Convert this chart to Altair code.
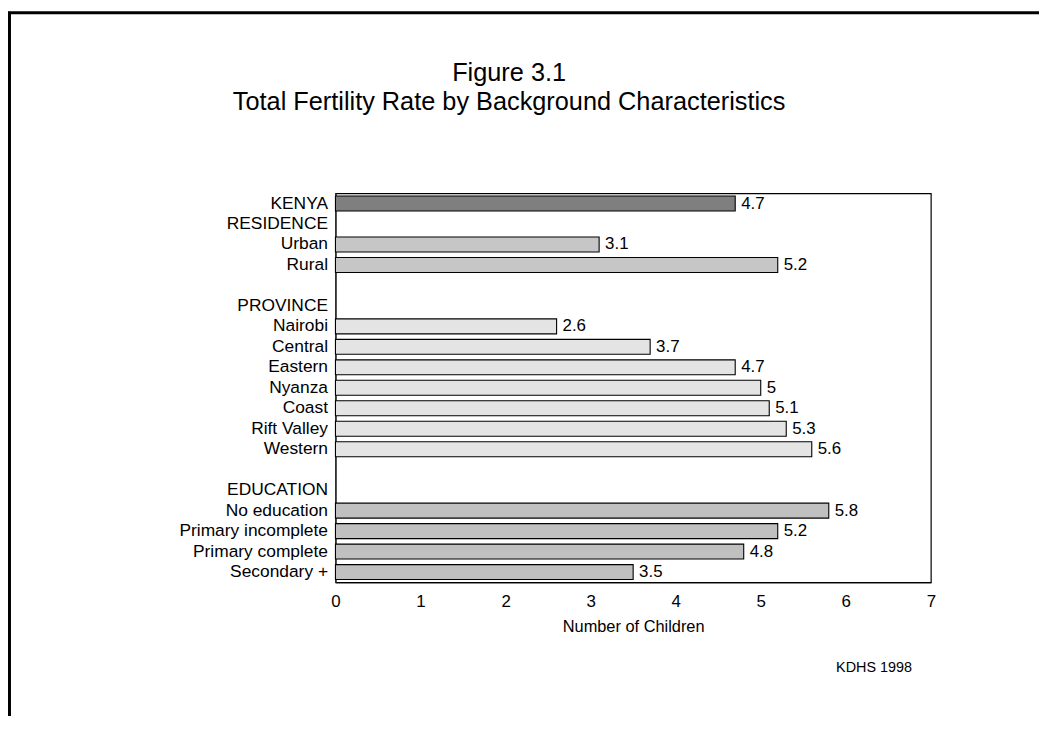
import altair as alt
import pandas as pd

# ---- data ----
rows = ["KENYA", "RESIDENCE", "Urban", "Rural", " ", "PROVINCE", "Nairobi", "Central",
        "Eastern", "Nyanza", "Coast", "Rift Valley", "Western", "  ", "EDUCATION",
        "No education", "Primary incomplete", "Primary complete", "Secondary +"]
bar_rows = ["KENYA", "Urban", "Rural", "Nairobi", "Central", "Eastern", "Nyanza", "Coast",
            "Rift Valley", "Western", "No education", "Primary incomplete",
            "Primary complete", "Secondary +"]
tfr = [4.7, 3.1, 5.2, 2.6, 3.7, 4.7, 5.0, 5.1, 5.3, 5.6, 5.8, 5.2, 4.8, 3.5]
groups = ["Total", "Residence", "Residence", "Province", "Province", "Province", "Province",
          "Province", "Province", "Province", "Education", "Education", "Education", "Education"]
group_names = ["Total", "Residence", "Province", "Education"]
x_ticks = [0, 1, 2, 3, 4, 5, 6, 7]
title_lines = ["Figure 3.1", "Total Fertility Rate by Background Characteristics"]
x_title = "Number of Children"
source = "KDHS 1998"

df = pd.DataFrame({"row": bar_rows, "value": tfr, "group": groups})

FONT = "Liberation Sans"

base = alt.Chart(df).encode(
    y=alt.Y("row:N", sort=rows,
            scale=alt.Scale(domain=rows, paddingInner=0.27, paddingOuter=0.135),
            axis=alt.Axis(title=None, ticks=False, labelPadding=8, domainColor="#333333",
                          domainWidth=1.5, labelFontSize=17.5, labelFont=FONT,
                          labelColor="black")),
    x=alt.X("value:Q", scale=alt.Scale(domain=[0, 7], nice=False),
            axis=alt.Axis(values=x_ticks, format="d", ticks=False, grid=False,
                          labelPadding=11, labelFontSize=17, labelFlush=False,
                          labelFont=FONT, labelColor="black",
                          title=x_title, titleFontSize=16.5, titleFontWeight="normal",
                          titleFont=FONT, titleColor="black",
                          titlePadding=10, domainColor="black", domainWidth=1)),
)

bars = base.mark_bar(stroke="black", strokeWidth=1.1).encode(
    color=alt.Color("group:N",
                    scale=alt.Scale(domain=group_names,
                                    range=["#7f7f7f", "#c6c6c6", "#e4e4e4", "#c0c0c0"]),
                    legend=None)
)

labels = base.mark_text(align="left", baseline="middle", dx=6, fontSize=17,
                        font=FONT, color="black").encode(text=alt.Text("value:Q"))

one = pd.DataFrame({"a": [0]})

frame_left = alt.Chart(one).mark_rule(color="black", strokeWidth=3).encode(
    x=alt.value(-328.5), y=alt.value(-183), y2=alt.value(540))
frame_top = alt.Chart(one).mark_rule(color="black", strokeWidth=3).encode(
    x=alt.value(-330), x2=alt.value(720), y=alt.value(-182))

t1 = alt.Chart(one).mark_text(fontSize=25.5, font=FONT, align="center",
                              baseline="alphabetic", color="black").encode(
    x=alt.value(175), y=alt.value(-113), text=alt.value(title_lines[0]))
t2 = alt.Chart(one).mark_text(fontSize=25.5, font=FONT, align="center",
                              baseline="alphabetic", color="black").encode(
    x=alt.value(175), y=alt.value(-84), text=alt.value(title_lines[1]))
src = alt.Chart(one).mark_text(fontSize=14.5, font=FONT, align="right",
                               baseline="middle", color="black").encode(
    x=alt.value(581), y=alt.value(478), text=alt.value(source))

chart = alt.layer(bars, labels, frame_left, frame_top, t1, t2, src).properties(
    width=600, height=392,
    background="white",
    autosize=alt.AutoSizeParams(type="none"),
    padding={"left": 330, "top": 184, "right": 109, "bottom": 132},
).configure_view(stroke="black", strokeWidth=1.2)

chart.save("out.html", embed_options={"renderer": "svg", "actions": False})
